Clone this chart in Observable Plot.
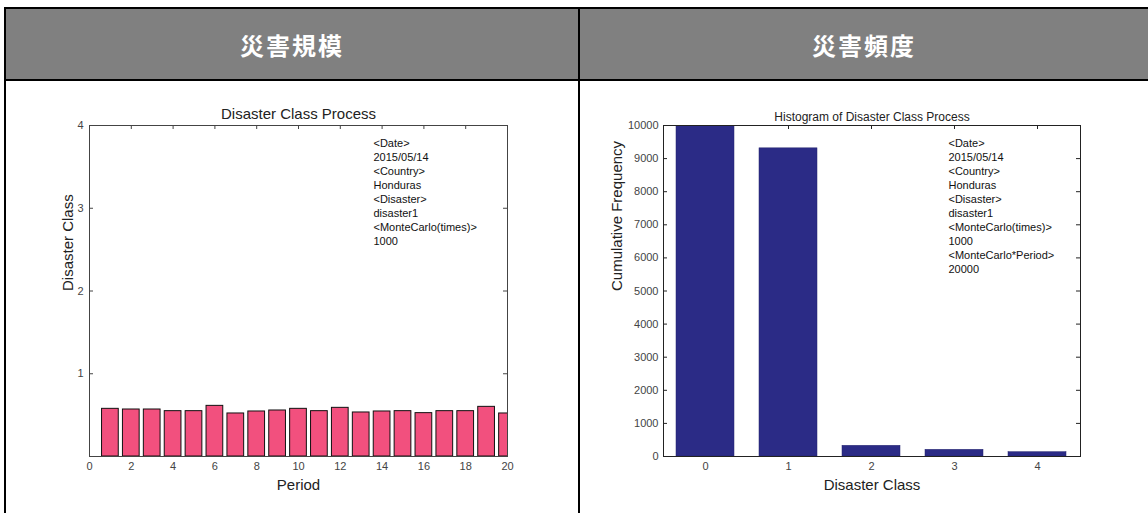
<!DOCTYPE html>
<html>
<head>
<meta charset="utf-8">
<script src="https://cdn.jsdelivr.net/npm/d3@7"></script>
<script src="https://cdn.jsdelivr.net/npm/@observablehq/plot@0.6"></script>
<style>
  html, body { margin: 0; padding: 0; background: #fff; }
  body { width: 1148px; height: 513px; position: relative; overflow: hidden; font-family: "Liberation Sans", Arial, sans-serif; }
  .line { position: absolute; background: #000; }
  .hdr { position: absolute; top: 9px; height: 70px; background: #808080; color: #fff;
         font-family: "Noto Sans CJK JP", sans-serif; font-weight: bold; font-size: 24px; letter-spacing: 2px;
         display: flex; align-items: center; justify-content: center; }
  .chart { position: absolute; top: 81px; height: 432px; }
</style>
</head>
<body>
<div class="hdr" id="hdrL" style="left:6px;width:572px;"></div>
<div class="hdr" id="hdrR" style="left:580px;width:568px;"></div>
<div class="line" style="left:4px;top:7px;width:1144px;height:2px;"></div>
<div class="line" style="left:4px;top:79px;width:1144px;height:2px;"></div>
<div class="line" style="left:4px;top:7px;width:2px;height:506px;"></div>
<div class="line" style="left:578px;top:7px;width:2px;height:506px;"></div>
<div class="chart" id="chartL" style="left:6px;width:572px;"></div>
<div class="chart" id="chartR" style="left:580px;width:568px;"></div>
<script>
// ---- Header texts ----
const headers = ["災害規模", "災害頻度"];

// ---- Left chart: Disaster Class Process ----
const titleL = "Disaster Class Process";
const xLabelL = "Period";
const yLabelL = "Disaster Class";
const periods = [1, 2, 3, 4, 5, 6, 7, 8, 9, 10, 11, 12, 13, 14, 15, 16, 17, 18, 19, 20];
const classValues = [0.576, 0.568, 0.568, 0.548, 0.548, 0.612, 0.52, 0.544, 0.556, 0.576,
                     0.548, 0.588, 0.532, 0.544, 0.548, 0.524, 0.548, 0.548, 0.60, 0.52];
const xTicksL = [0, 2, 4, 6, 8, 10, 12, 14, 16, 18, 20];
const yTicksL = [1, 2, 3, 4];
const annotL = ["<Date>", "2015/05/14", "<Country>", "Honduras", "<Disaster>", "disaster1",
                "<MonteCarlo(times)>", "1000"];

// ---- Right chart: Histogram ----
const titleR = "Histogram of Disaster Class Process";
const xLabelR = "Disaster Class";
const yLabelR = "Cumulative Frequency";
const classes = [0, 1, 2, 3, 4];
const frequencies = [10000, 9310, 323, 202, 130];
const yTicksR = [0, 1000, 2000, 3000, 4000, 5000, 6000, 7000, 8000, 9000, 10000];
const annotR = ["<Date>", "2015/05/14", "<Country>", "Honduras", "<Disaster>", "disaster1",
                "<MonteCarlo(times)>", "1000", "<MonteCarlo*Period>", "20000"];

document.getElementById("hdrL").textContent = headers[0];
document.getElementById("hdrR").textContent = headers[1];

const baseStyle = { fontFamily: "Liberation Sans, Arial, sans-serif", fontSize: "11px", background: "transparent", color: "#222" };
const tickColor = "#444";
const fmt = d3.format("d");

// inward tick helper: frame-relative short ticks on all four sides
function innerTicks(xt, yt, frameH, frameW, color) {
  const len = 4;
  return [
    Plot.tickX(xt, { x: d => d, insetTop: frameH - len, stroke: color }),
    Plot.tickX(xt, { x: d => d, insetBottom: frameH - len, stroke: color }),
    Plot.tickY(yt, { y: d => d, insetRight: frameW - len, stroke: color }),
    Plot.tickY(yt, { y: d => d, insetLeft: frameW - len, stroke: color })
  ];
}

const L = { width: 572, height: 432, ml: 83, mr: 71, mt: 44, mb: 57 };
const leftData = periods.map((p, i) => ({ period: p, value: classValues[i] }));
const chartL = Plot.plot({
  width: L.width, height: L.height,
  marginLeft: L.ml, marginRight: L.mr, marginTop: L.mt, marginBottom: L.mb,
  style: baseStyle,
  x: { domain: [0, 20] },
  y: { domain: [0, 4] },
  marks: [
    ...innerTicks(xTicksL, yTicksL, L.height - L.mt - L.mb, L.width - L.ml - L.mr, tickColor),
    Plot.axisX(xTicksL, { anchor: "bottom", tickSize: 0, tickPadding: 6, label: null, color: tickColor, fontSize: 11, tickFormat: fmt }),
    Plot.axisY(yTicksL, { anchor: "left", tickSize: 0, tickPadding: 6, label: null, color: tickColor, fontSize: 11, tickFormat: fmt }),
    Plot.rectY(leftData, { x1: d => d.period - 0.4, x2: d => d.period + 0.4, y: "value", fill: "#f2507e", stroke: "#111", strokeWidth: 1, clip: true }),
    Plot.frame({ stroke: "#444" }),
    Plot.text([titleL], { text: d => d, frameAnchor: "top", lineAnchor: "bottom", dy: -7, fontSize: 15, fill: "#222" }),
    Plot.text([xLabelL], { text: d => d, frameAnchor: "bottom", lineAnchor: "middle", dy: 29, fontSize: 15, fill: "#222" }),
    Plot.text([yLabelL], { text: d => d, frameAnchor: "left", rotate: -90, dx: -21, fontSize: 15, fill: "#222" }),
    Plot.text([annotL.join("\n")], { text: d => d, frameAnchor: "top-left", textAnchor: "start", lineAnchor: "top", dx: 284, dy: 12, lineHeight: 1.27, fontSize: 11, fill: "#111" })
  ]
});
document.getElementById("chartL").append(chartL);

const R = { width: 568, height: 432, ml: 83, mr: 68, mt: 44, mb: 57 };
const rightData = classes.map((c, i) => ({ cls: c, freq: frequencies[i] }));
const chartR = Plot.plot({
  width: R.width, height: R.height,
  marginLeft: R.ml, marginRight: R.mr, marginTop: R.mt, marginBottom: R.mb,
  style: baseStyle,
  x: { type: "band", domain: classes, paddingInner: 0.3, paddingOuter: 0.15 },
  y: { domain: [0, 10000] },
  marks: [
    ...innerTicks(classes, yTicksR, R.height - R.mt - R.mb, R.width - R.ml - R.mr, "#222"),
    Plot.axisX(classes, { anchor: "bottom", tickSize: 0, tickPadding: 6, label: null, color: tickColor, fontSize: 11 }),
    Plot.axisY(yTicksR, { anchor: "left", tickSize: 0, tickPadding: 5, label: null, color: tickColor, fontSize: 11, tickFormat: fmt }),
    Plot.barY(rightData, { x: "cls", y: "freq", fill: "#2b2b86", stroke: "#22226e", strokeWidth: 0.5, clip: true }),
    Plot.frame({ stroke: "#222" }),
    Plot.text([titleR], { text: d => d, frameAnchor: "top", lineAnchor: "bottom", dy: -5, fontSize: 12, fill: "#222" }),
    Plot.text([xLabelR], { text: d => d, frameAnchor: "bottom", lineAnchor: "middle", dy: 29, fontSize: 15, fill: "#222" }),
    Plot.text([yLabelR], { text: d => d, frameAnchor: "left", rotate: -90, dx: -46, fontSize: 15, fill: "#222" }),
    Plot.text([annotR.join("\n")], { text: d => d, frameAnchor: "top-left", textAnchor: "start", lineAnchor: "top", dx: 285, dy: 12, lineHeight: 1.27, fontSize: 11, fill: "#111" })
  ]
});
document.getElementById("chartR").append(chartR);
</script>
</body>
</html>
